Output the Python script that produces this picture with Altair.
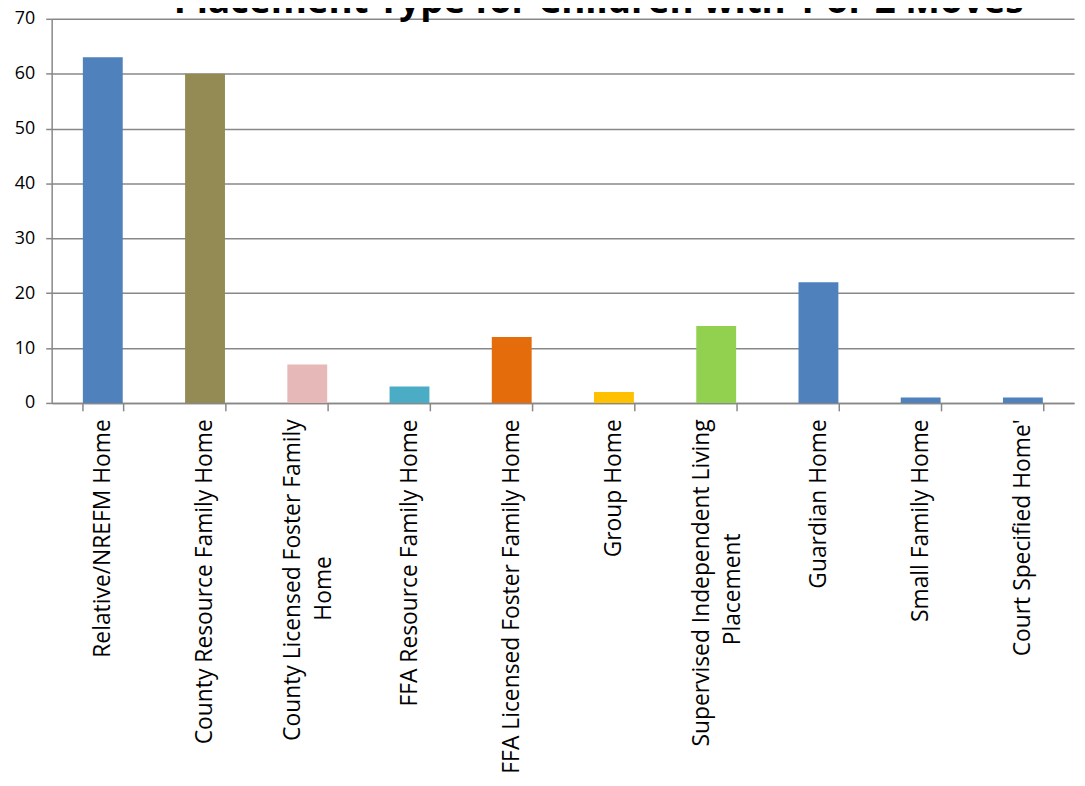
import altair as alt
import pandas as pd

categories = [
    "Relative/NREFM Home",
    "County Resource Family Home",
    "County Licensed Foster Family\nHome",
    "FFA Resource Family Home",
    "FFA Licensed Foster Family Home",
    "Group Home",
    "Supervised Independent Living\nPlacement",
    "Guardian Home",
    "Small Family Home",
    "Court Specified Home'",
]
values = [63, 60, 7, 3, 12, 2, 14, 22, 1, 1]
colors = ["#4F81BD", "#948A54", "#E6B9B8", "#4BACC6", "#E46C0A",
          "#FFC000", "#92D050", "#4F81BD", "#4F81BD", "#4F81BD"]
y_ticks = [0, 10, 20, 30, 40, 50, 60, 70]
title_text = "Placement Type for Children with 1 or 2 Moves"


def display_label(s):
    # right-aligned rotated labels: pad secondary lines so they sit centred
    lines = s.split("\n")
    first = lines[0]
    out = [first]
    for ln in lines[1:]:
        n = round((len(first) - len(ln)) * 0.5 / 2)
        out.append(ln + "\u2003" * n + "\u200b")
    return "|".join(out)


df = pd.DataFrame({
    "cat": [display_label(c) for c in categories],
    "value": values,
})
order = list(df["cat"])

bars = alt.Chart(df).mark_bar().encode(
    x=alt.X("cat:N", sort=order, title=None,
            scale=alt.Scale(paddingInner=0.61, paddingOuter=0.305),
            axis=alt.Axis(labelAngle=270, labelAlign="right", labelBaseline="middle",
                          labelExpr="split(datum.label, '|')",
                          labelOffset={"condition": {"test": "indexof(datum.label, '|') >= 0",
                                                     "value": -15},
                                       "value": 0},
                          labelFont="Open Sans", labelFontSize=23, labelColor="#000000",
                          labelLineHeight=31, labelPadding=8, labelLimit=600,
                          tickBand="extent", tickSize=8, tickColor="#888888", tickWidth=1.5,
                          domainColor="#888888", domainWidth=1.5, grid=False)),
    y=alt.Y("value:Q", title=None,
            scale=alt.Scale(domain=[0, 70], nice=False),
            axis=alt.Axis(values=y_ticks, labelFont="Open Sans", labelFontSize=18,
                          labelColor="#000000", labelPadding=11, tickSize=6,
                          tickColor="#888888", tickWidth=1.5, domainColor="#888888",
                          domainWidth=1.5, gridColor="#888888", gridWidth=1.5)),
    color=alt.Color("cat:N", scale=alt.Scale(domain=order, range=colors), legend=None),
)

title = alt.Chart(pd.DataFrame({"t": [title_text]})).mark_text(
    font="Open Sans", fontSize=37, fontWeight="bold", color="#000000",
    align="center", baseline="alphabetic",
).encode(text="t:N", x=alt.value(551), y=alt.value(-6))

chart = alt.layer(bars, title).properties(
    width=1030,
    height=387,
    padding={"left": 44, "top": 8, "right": 3, "bottom": 376},
    autosize="none",
).configure_view(stroke=None)

chart.save("out.html", embed_options={"renderer": "svg", "actions": False})
